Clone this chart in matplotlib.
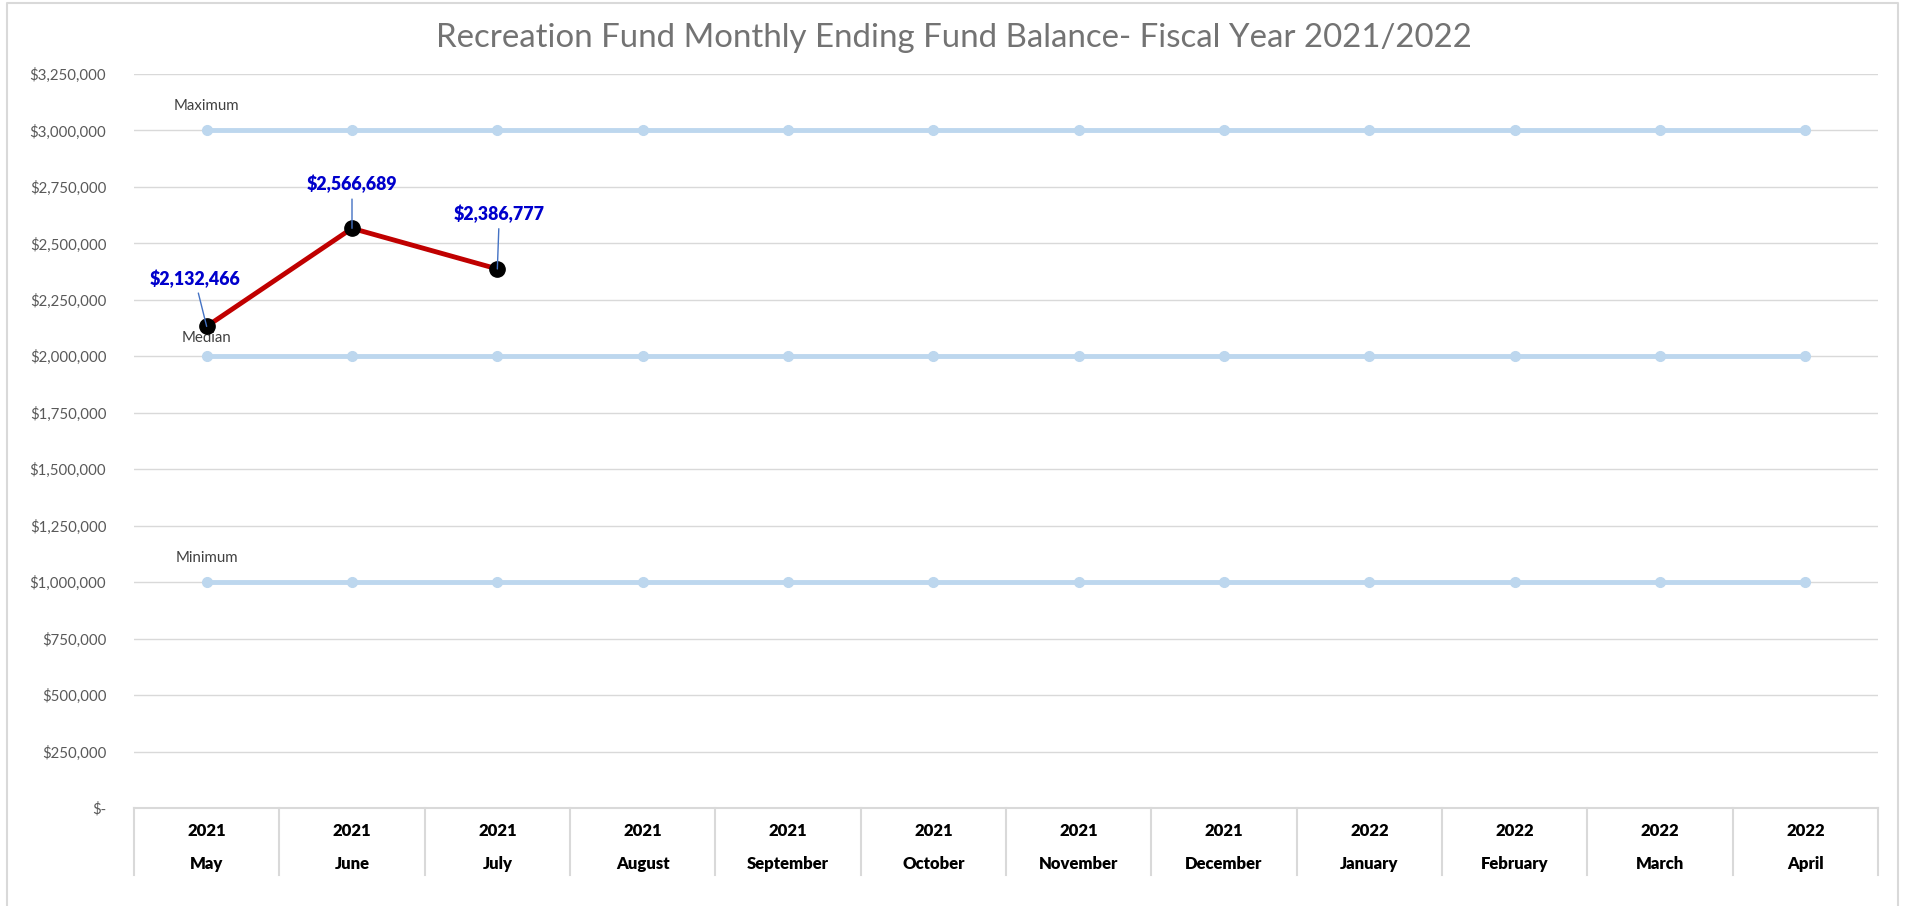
import matplotlib.pyplot as plt
import matplotlib.transforms as mtransforms
from matplotlib.lines import Line2D
import numpy as np

meses = ['May', 'June', 'July', 'August', 'September', 'October', 'November',
         'December', 'January', 'February', 'March', 'April']
anios = ['2021'] * 8 + ['2022'] * 4
saldo = [2132466, 2566689, 2386777]
maximo = [3000000] * 12
mediana = [2000000] * 12
minimo = [1000000] * 12
etiquetas_saldo = ['$2,132,466', '$2,566,689', '$2,386,777']
desplaz_etiquetas = [(-12, 48), (0, 44), (2, 55)]

fig = plt.figure(figsize=(19.05, 9.06), dpi=100)
ax = fig.add_axes([134 / 1905, 1 - 808 / 906, 1744 / 1905, 734 / 906])

x = np.arange(len(meses))
azul_claro = '#BDD7EE'
for serie, nombre, dy in [(maximo, 'Maximum', 24), (mediana, 'Median', 18), (minimo, 'Minimum', 24)]:
    ax.plot(x, serie, color=azul_claro, lw=3.5, marker='o', ms=7, zorder=3)
    ax.annotate(nombre, (x[0], serie[0]), xytext=(0, dy), textcoords='offset pixels',
                ha='center', va='center', fontsize=10.8, color='#404040', family='Lato')

xs = x[:len(saldo)]
ax.plot(xs, saldo, color='#C00000', lw=3.5, marker='o', ms=11,
        markerfacecolor='black', markeredgecolor='black', zorder=5)
for xi, yi, txt, (dx, dy) in zip(xs, saldo, etiquetas_saldo, desplaz_etiquetas):
    ax.annotate(txt, (xi, yi), xytext=(dx, dy), textcoords='offset pixels',
                ha='center', va='center', fontsize=12.8, fontweight='heavy', color='#0000CC',
                family='Lato', zorder=6,
                arrowprops=dict(arrowstyle='-', color='#4472C4', lw=1, shrinkA=2, shrinkB=0))

ax.set_xlim(-0.5, 11.5)
ax.set_ylim(0, 3250000)
ticks = np.arange(0, 3250001, 250000)
ax.set_yticks(ticks)
ax.set_yticklabels(['$-' if t == 0 else '${:,.0f}'.format(t) for t in ticks],
                   fontsize=10.8, color='#595959', family='Lato')
ax.tick_params(axis='y', length=0, pad=20)
ax.set_xticks([])
ax.grid(axis='y', color='#D9D9D9', lw=1)
ax.set_axisbelow(True)
for lado in ['left', 'right', 'top']:
    ax.spines[lado].set_visible(False)
ax.spines['bottom'].set_color('#D9D9D9')
ax.spines['bottom'].set_linewidth(1.5)

trans = mtransforms.blended_transform_factory(ax.transData, ax.transAxes)
fondo = -(875 - 808) / 734
for borde in np.arange(-0.5, 12, 1):
    ax.add_line(Line2D([borde, borde], [0, fondo], transform=trans, color='#D9D9D9',
                       lw=1.5, clip_on=False))
for xi, anio, mes in zip(x, anios, meses):
    ax.text(xi, -(831 - 808) / 734, anio, transform=trans, ha='center', va='center',
            fontsize=12, fontweight='heavy', color='black', family='Lato')
    ax.text(xi, -(864 - 808) / 734, mes, transform=trans, ha='center', va='center',
            fontsize=12, fontweight='heavy', color='black', family='Lato')

fig.text(954 / 1905, 1 - 38 / 906, 'Recreation Fund Monthly Ending Fund Balance- Fiscal Year 2021/2022',
         ha='center', va='center', fontsize=23.8, color='#737373', family='Lato')

borde_x = [7 / 1905, 1898 / 1905]
borde_y = 1 - 3 / 906
fig.add_artist(Line2D([borde_x[0], borde_x[0], borde_x[1], borde_x[1]], [0, borde_y, borde_y, 0],
                      transform=fig.transFigure, color='#D9D9D9', lw=1.5))

fig.savefig('out.png', dpi=100)
